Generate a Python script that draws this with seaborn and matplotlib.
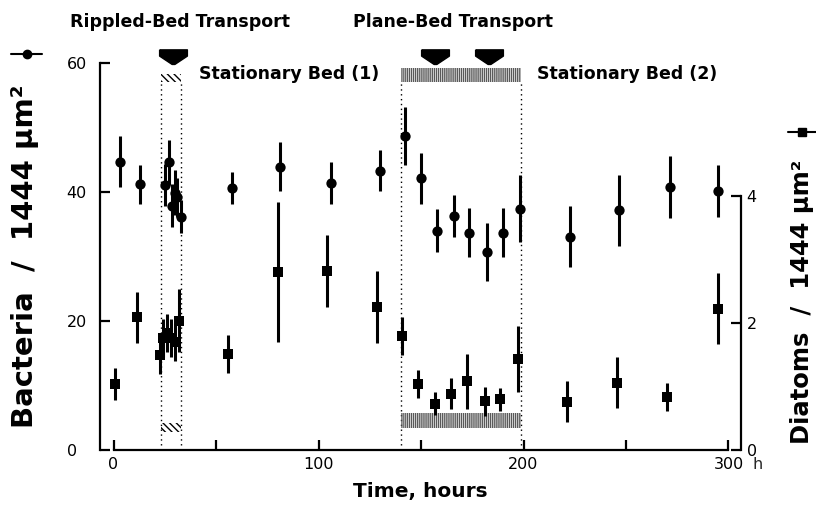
import matplotlib
matplotlib.use('Agg')
import matplotlib.pyplot as plt
from matplotlib.patches import Rectangle
from matplotlib.lines import Line2D
import pandas as pd
import seaborn as sns

# bacteria counts per 1444 um^2 (left axis)
hours_bact = [3, 13, 25, 27, 28.5, 30, 31, 33, 58, 81, 106, 130, 142, 150,
              158, 166, 173.5, 182, 190, 198.5, 222.5, 246.5, 271.5, 295]
bacteria = [44.7, 41.2, 41.1, 44.6, 37.9, 39.9, 39.2, 36.2, 40.6, 43.9, 41.4, 43.3, 48.7, 42.1,
            34.0, 36.3, 33.7, 30.7, 33.7, 37.4, 33.1, 37.2, 40.8, 40.2]
bact_err = [4.0, 3.0, 3.2, 3.5, 3.3, 3.5, 3.0, 2.5, 2.5, 3.8, 3.3, 3.2, 4.5, 4.0,
            3.3, 3.3, 3.8, 4.5, 3.8, 5.2, 4.7, 5.5, 4.8, 4.0]

# diatom counts per 1444 um^2 (right axis)
hours_diat = [0.7, 11.6, 22.7, 24, 26, 28, 30, 32, 55.7, 80.2, 104.3, 128.5, 140.7, 148.5,
              156.8, 164.8, 172.6, 181.1, 188.5, 197.3, 221.4, 245.6, 269.9, 294.7]
diatoms = [1.04, 2.09, 1.50, 1.76, 1.85, 1.77, 1.70, 2.04, 1.52, 2.81, 2.82, 2.25, 1.80, 1.04,
           0.73, 0.89, 1.08, 0.77, 0.80, 1.44, 0.76, 1.06, 0.83, 2.23]
diat_err = [0.25, 0.4, 0.3, 0.3, 0.3, 0.3, 0.3, 0.5, 0.3, 1.1, 0.57, 0.57, 0.3, 0.22,
            0.18, 0.24, 0.43, 0.23, 0.18, 0.52, 0.32, 0.4, 0.22, 0.56]

# events (hours)
bed1 = (23, 33)
bed2 = (140, 199)
transport_arrows = [29, 157, 183]

sns.set_theme(style='ticks')
plt.rcParams['font.family'] = ['DejaVu Sans']
plt.rcParams['hatch.linewidth'] = 1.0

df_b = pd.DataFrame({'hours': hours_bact, 'value': bacteria})
df_d = pd.DataFrame({'hours': hours_diat, 'value': diatoms})

fig = plt.figure(figsize=(8.16, 5.25), dpi=100)
ax = fig.add_axes([100 / 816, 75 / 525, 641 / 816, 387 / 525])
ax2 = ax.twinx()

ax.errorbar(hours_bact, bacteria, yerr=bact_err, fmt='none', ecolor='black', elinewidth=2.2, capsize=0)
sns.scatterplot(data=df_b, x='hours', y='value', ax=ax, marker='o', s=55, color='black',
                edgecolor='black', linewidth=0, zorder=3)
ax2.errorbar(hours_diat, diatoms, yerr=diat_err, fmt='none', ecolor='black', elinewidth=2.2, capsize=0)
sns.scatterplot(data=df_d, x='hours', y='value', ax=ax2, marker='s', s=45, color='black',
                edgecolor='black', linewidth=0, zorder=3)

ax.set_xlim(-6.6, 306.1)
ax.set_ylim(0, 60)
ax2.set_ylim(0, 6.1)
ax.set_xlabel('')
ax.set_ylabel('')
ax2.set_xlabel('')
ax2.set_ylabel('')

# stationary bed periods: dotted borders and hatched bars
for lo, hi in [bed1, bed2]:
    for x in (lo, hi):
        ax.plot([x, x], [0.8, 57], ls=(0, (1, 2.5)), color='black', lw=1, zorder=1)
ax.add_patch(Rectangle((bed1[0], 57), bed1[1] - bed1[0], 1.3, hatch='\\\\\\\\\\', fill=False,
                       lw=0, edgecolor='black', clip_on=False))
ax.add_patch(Rectangle((bed1[0], 2.8), bed1[1] - bed1[0], 1.4, hatch='\\\\\\\\\\', fill=False,
                       lw=0, edgecolor='black', clip_on=False))
ax.add_patch(Rectangle((bed2[0], 57), bed2[1] - bed2[0], 2.2, hatch='||||||||', fill=False,
                       lw=0, edgecolor='0.35', clip_on=False))
ax.add_patch(Rectangle((bed2[0], 3.4), bed2[1] - bed2[0], 2.3, hatch='||||||||', fill=False,
                       lw=0, edgecolor='0.35', clip_on=False))

arrow_verts = [(-1, 0.55), (1, 0.55), (1, 0.1), (0.1, -0.5), (-0.1, -0.5), (-1, 0.1), (-1, 0.55)]
ax.plot(transport_arrows, [61.0] * len(transport_arrows), ls='none', marker=arrow_verts,
        markersize=20, color='black', clip_on=False, zorder=4)

# spines and ticks
ax.spines['top'].set_visible(False)
ax.spines['right'].set_visible(False)
ax.spines['left'].set_bounds(0, 60)
ax.spines['bottom'].set_bounds(0, 300)
for s in ['top', 'left', 'bottom']:
    ax2.spines[s].set_visible(False)
ax2.spines['right'].set_bounds(0, 4)
for sp in [ax.spines['left'], ax.spines['bottom'], ax2.spines['right']]:
    sp.set_linewidth(1.6)
    sp.set_color('black')

ax.set_xticks([0, 100, 200, 300])
ax.set_xticklabels(['0', '100', '200', '300'])
ax.set_xticks([50, 150, 250], minor=True)
ax.set_yticks([0, 20, 40, 60])
ax.set_yticklabels(['0', '20', '40', '60'])
ax2.set_yticks([0, 2, 4])
ax2.set_yticklabels(['0', '2', '4'])
ax.tick_params(axis='x', which='both', direction='in', length=7, width=1.6, pad=5,
               labelsize=11.5, colors='black')
ax.tick_params(axis='y', direction='in', length=7, width=1.6, pad=24, labelsize=11.5, colors='black')
ax2.tick_params(axis='y', direction='in', length=7, width=1.6, pad=4, labelsize=11.5, colors='black')
plt.setp(ax.get_yticklabels(), ha='left')
ax.annotate('h', xy=(300, 0), xycoords='data', xytext=(17, -5), textcoords='offset points',
            ha='left', va='top', fontsize=11.5)

# texts
bold = dict(weight='bold', color='black')
fig.text(70 / 816, 1 - 22 / 525, 'Rippled-Bed Transport', ha='left', va='center', size=12.5, **bold)
fig.text(353 / 816, 1 - 22 / 525, 'Plane-Bed Transport', ha='left', va='center', size=12.5, **bold)
fig.text(199 / 816, 1 - 74 / 525, 'Stationary Bed (1)', ha='left', va='center', size=12.5, **bold)
fig.text(537 / 816, 1 - 74 / 525, 'Stationary Bed (2)', ha='left', va='center', size=12.5, **bold)
fig.text(420 / 816, 1 - 492 / 525, 'Time, hours', ha='center', va='center', size=14.5, **bold)
fig.text(25 / 816, 1 - 256 / 525, 'Bacteria  /  1444 μm²', rotation=90, ha='center', va='center',
         size=21, **bold)
fig.text(802 / 816, 1 - 302 / 525, 'Diatoms  /  1444 μm²', rotation=90, ha='center', va='center',
         size=17.5, **bold)

# series symbols beside the axis titles
fig.add_artist(Line2D([11 / 816, 27 / 816, 42 / 816], [1 - 54 / 525] * 3, transform=fig.transFigure,
                      color='black', lw=1.5, marker='o', markersize=6, markevery=[1]))
fig.add_artist(Line2D([788 / 816, 802 / 816, 816 / 816], [1 - 131.7 / 525] * 3, transform=fig.transFigure,
                      color='black', lw=1.5, marker='s', markersize=6, markevery=[1]))

fig.savefig('out.png', dpi=100)
